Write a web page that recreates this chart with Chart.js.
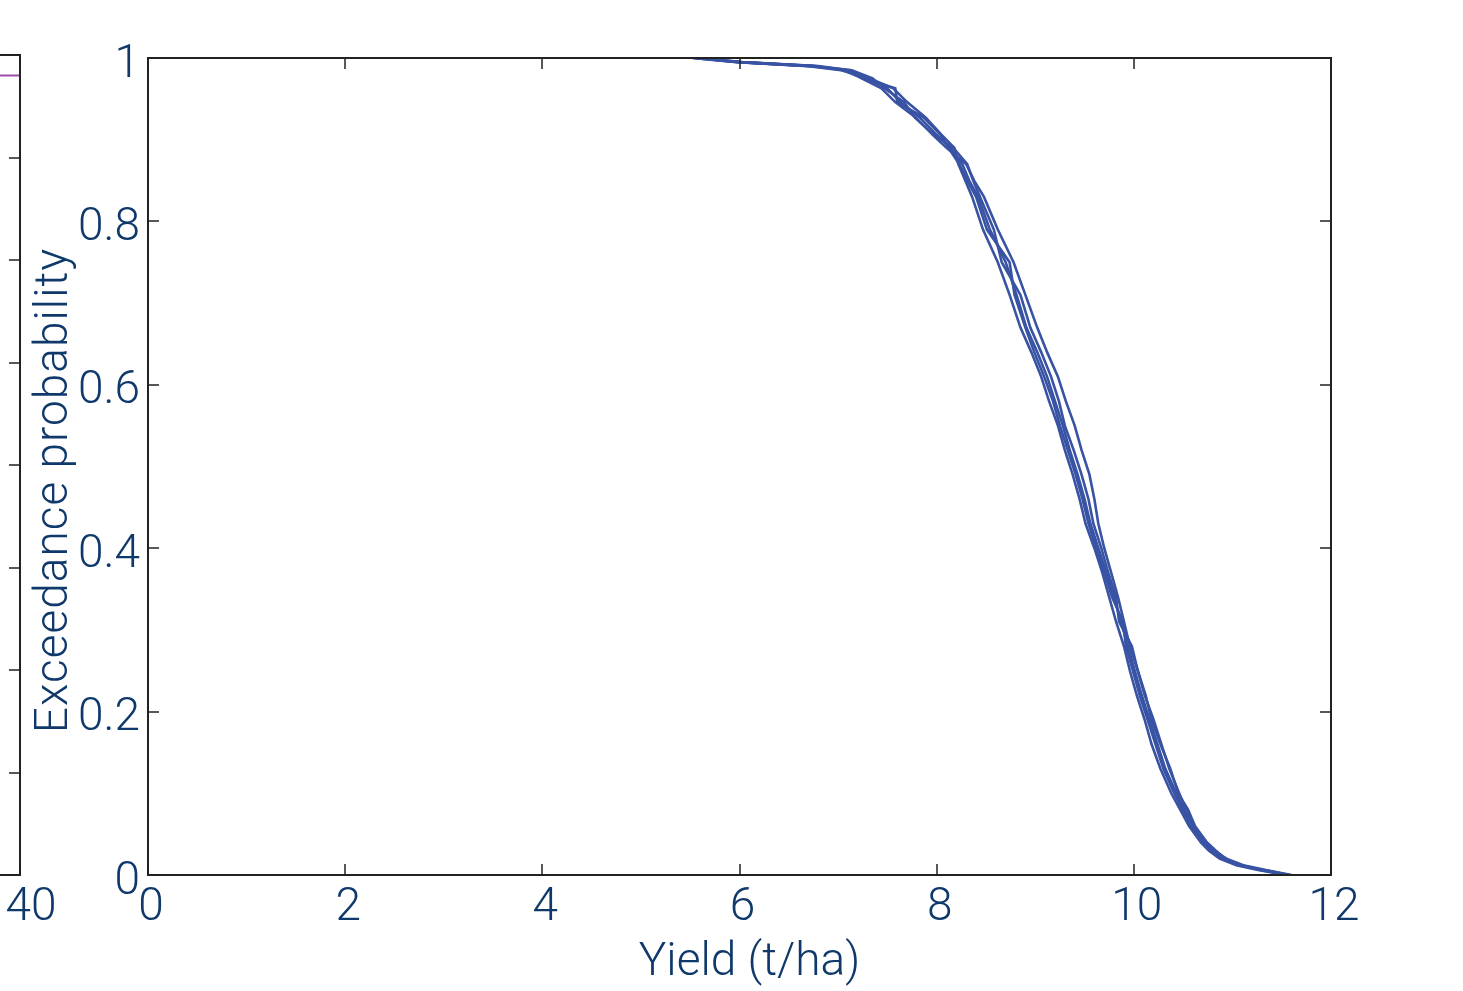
<!DOCTYPE html>
<html>
<head>
<meta charset="utf-8">
<script src="https://cdn.jsdelivr.net/npm/chart.js@4.4.1/dist/chart.umd.min.js"></script>
<style>
  body { margin: 0; background: #fff; overflow: hidden; }
  #wrap { position: relative; width: 1463px; height: 991px; }
  #mainChart { position: absolute; left: 0; top: 0; }
  #sideChart { position: absolute; left: -280px; top: 0; }
</style>
</head>
<body>
<div id="wrap">
  <canvas id="mainChart" width="1463" height="991"></canvas>
  <canvas id="sideChart" width="340" height="991"></canvas>
</div>
<script>
// 超過確率の水準（全ランク共通）
const probLevels = [1, 0.995, 0.99, 0.985, 0.975, 0.963, 0.946, 0.927, 0.906, 0.89, 0.87, 0.85, 0.83, 0.79, 0.75, 0.71, 0.67, 0.64, 0.61, 0.58, 0.55, 0.52, 0.49, 0.46, 0.43, 0.40, 0.37, 0.34, 0.31, 0.28, 0.25, 0.22, 0.19, 0.16, 0.13, 0.10, 0.08, 0.06, 0.04, 0.03, 0.02, 0.012, 0.006, 0];

// 各シミュレーションの収量 (t/ha)
const yieldRun1 = [5.55, 6.00, 6.75, 7.08, 7.28, 7.50, 7.63, 7.83, 8.00, 8.14, 8.26, 8.33, 8.42, 8.54, 8.70, 8.81, 8.91, 9.02, 9.12, 9.20, 9.28, 9.35, 9.43, 9.50, 9.56, 9.64, 9.72, 9.80, 9.87, 9.94, 10.01, 10.08, 10.16, 10.24, 10.32, 10.43, 10.51, 10.59, 10.71, 10.79, 10.91, 11.08, 11.30, 11.58];
const yieldRun2 = [5.58, 6.03, 6.80, 7.12, 7.24, 7.44, 7.58, 7.79, 7.96, 8.10, 8.30, 8.38, 8.48, 8.62, 8.78, 8.90, 9.02, 9.12, 9.23, 9.31, 9.40, 9.47, 9.55, 9.60, 9.64, 9.70, 9.77, 9.84, 9.90, 9.96, 10.04, 10.11, 10.20, 10.28, 10.36, 10.46, 10.53, 10.61, 10.73, 10.81, 10.94, 11.11, 11.34, 11.60];
const yieldRun3 = [5.52, 5.97, 6.70, 7.03, 7.32, 7.56, 7.70, 7.89, 8.05, 8.18, 8.22, 8.29, 8.36, 8.47, 8.62, 8.74, 8.85, 8.96, 9.06, 9.14, 9.23, 9.30, 9.38, 9.45, 9.51, 9.60, 9.68, 9.75, 9.82, 9.90, 9.96, 10.03, 10.11, 10.18, 10.27, 10.38, 10.47, 10.56, 10.68, 10.76, 10.87, 11.04, 11.26, 11.55];
const yieldRun4 = [5.56, 6.01, 6.73, 7.14, 7.35, 7.47, 7.67, 7.78, 7.97, 8.17, 8.31, 8.37, 8.44, 8.58, 8.66, 8.85, 8.95, 9.06, 9.16, 9.24, 9.30, 9.39, 9.47, 9.54, 9.59, 9.67, 9.74, 9.82, 9.85, 9.98, 10.04, 10.12, 10.18, 10.27, 10.37, 10.45, 10.55, 10.62, 10.74, 10.83, 10.93, 11.06, 11.32, 11.57];
const yieldRun5 = [5.54, 5.99, 6.77, 7.06, 7.25, 7.58, 7.60, 7.87, 8.04, 8.12, 8.23, 8.31, 8.40, 8.51, 8.74, 8.79, 8.90, 8.99, 9.09, 9.18, 9.25, 9.33, 9.41, 9.48, 9.54, 9.62, 9.70, 9.78, 9.89, 9.92, 9.99, 10.06, 10.14, 10.22, 10.30, 10.41, 10.49, 10.57, 10.69, 10.77, 10.89, 11.10, 11.28, 11.56];
const yieldRuns = [yieldRun1, yieldRun2, yieldRun3, yieldRun4, yieldRun5];

// 左側の隣のパネル（一部のみ見える）
const sideX = [0, 40];
const sideY = [78, 78];

const textColor = "#10396b";
const lineColor = "#3953a4";
const fontFamily = "Roboto, 'Open Sans', sans-serif";

// 枠線と内向きの目盛り
const frameTicks = {
  id: "frameTicks",
  afterDatasetsDraw(chart) {
    const { ctx, chartArea: a, scales } = chart;
    const len = 11;
    ctx.save();
    ctx.strokeStyle = "#222";
    ctx.lineWidth = 2;
    ctx.strokeRect(a.left, a.top, a.right - a.left, a.bottom - a.top);
    ctx.lineWidth = 1.5;
    ctx.beginPath();
    scales.x.ticks.forEach((t) => {
      const px = Math.round(scales.x.getPixelForValue(t.value));
      ctx.moveTo(px, a.bottom);
      ctx.lineTo(px, a.bottom - len);
      ctx.moveTo(px, a.top);
      ctx.lineTo(px, a.top + len);
    });
    scales.y.ticks.forEach((t) => {
      const py = Math.round(scales.y.getPixelForValue(t.value));
      ctx.moveTo(a.left, py);
      ctx.lineTo(a.left + len, py);
      ctx.moveTo(a.right, py);
      ctx.lineTo(a.right - len, py);
    });
    ctx.stroke();
    ctx.restore();
  },
};

// 軸タイトル（位置を少し調整して描画）
const axisTitles = {
  id: "axisTitles",
  afterDraw(chart) {
    const { ctx, chartArea: a } = chart;
    ctx.save();
    ctx.fillStyle = textColor;
    ctx.font = "300 46px " + fontFamily;
    ctx.textAlign = "center";
    ctx.textBaseline = "middle";
    ctx.fillText("Yield (t/ha)", (a.left + a.right) / 2 + 10, a.bottom + 88);
    ctx.translate(55, (a.top + a.bottom) / 2 + 24);
    ctx.rotate(-Math.PI / 2);
    ctx.letterSpacing = "1px";
    ctx.fillText("Exceedance probability", 0, 0);
    ctx.restore();
  },
};

Chart.defaults.font.family = fontFamily;
Chart.defaults.font.weight = 300;
Chart.defaults.color = textColor;

new Chart(document.getElementById("mainChart"), {
  type: "scatter",
  data: {
    datasets: yieldRuns.map((run, i) => ({
      label: "run " + (i + 1),
      data: run.map((v, j) => ({ x: v, y: probLevels[j] })),
      showLine: true,
      borderColor: lineColor,
      borderWidth: 2.6,
      pointRadius: 0,
      tension: 0,
    })),
  },
  options: {
    responsive: false,
    animation: false,
    layout: { padding: { top: 58, right: 132, left: 0, bottom: 0 } },
    plugins: { legend: { display: false }, tooltip: { enabled: false } },
    scales: {
      x: {
        type: "linear",
        min: 0,
        max: 12,
        afterFit: (s) => { s.height = 116; },
        grid: { drawOnChartArea: false, drawTicks: false },
        border: { display: false },
        ticks: { stepSize: 2, padding: 6, labelOffset: 3, maxRotation: 0, font: { size: 46, weight: 300 } },
      },
      y: {
        type: "linear",
        min: 0,
        max: 1,
        afterFit: (s) => { s.width = 148; },
        grid: { drawOnChartArea: false, drawTicks: false },
        border: { display: false },
        ticks: {
          stepSize: 0.2,
          padding: 8,
          labelOffset: 7,
          font: { size: 46, weight: 300 },
          callback: (v) => (Math.abs(v - 1) < 1e-9 ? "1" : Math.abs(v) < 1e-9 ? "0" : v.toFixed(1)),
        },
      },
    },
  },
  plugins: [frameTicks, axisTitles],
});

new Chart(document.getElementById("sideChart"), {
  type: "scatter",
  data: {
    datasets: [{
      data: sideX.map((v, i) => ({ x: v, y: sideY[i] })),
      showLine: true,
      borderColor: "#9b4ea8",
      borderWidth: 2.2,
      pointRadius: 0,
    }],
  },
  options: {
    responsive: false,
    animation: false,
    layout: { padding: { top: 55, right: 40, left: 0, bottom: 0 } },
    plugins: { legend: { display: false }, tooltip: { enabled: false } },
    scales: {
      x: {
        type: "linear",
        min: 0,
        max: 40,
        afterFit: (s) => { s.height = 116; },
        grid: { drawOnChartArea: false, drawTicks: false },
        border: { display: false },
        ticks: { stepSize: 10, padding: 6, labelOffset: 11, maxRotation: 0, font: { size: 46, weight: 300 } },
      },
      y: {
        type: "linear",
        min: 0,
        max: 80,
        afterFit: (s) => { s.width = 60; },
        grid: { drawOnChartArea: false, drawTicks: false },
        border: { display: false },
        ticks: { stepSize: 10, display: false },
      },
    },
  },
  plugins: [frameTicks],
});
</script>
</body>
</html>
